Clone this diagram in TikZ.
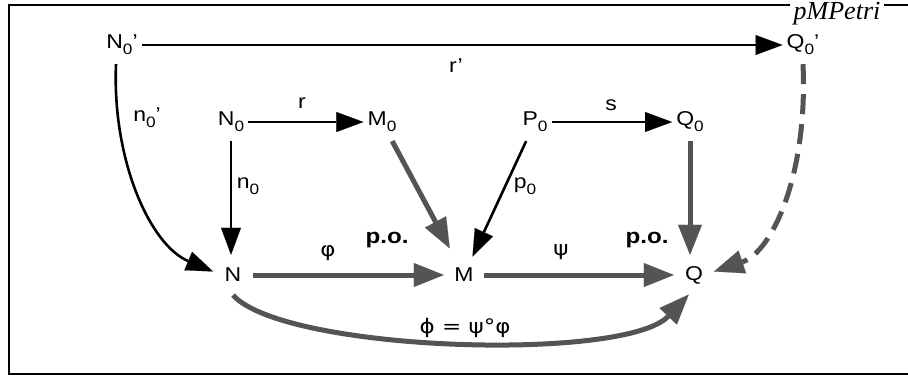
\documentclass[tikz,border=0pt]{standalone}
\usepackage{fontspec}
\usepackage{graphicx}
\setmainfont{Liberation Sans}
\newfontfamily\grk{DejaVu Sans}
\newfontfamily\titlefont{Liberation Serif}
\usetikzlibrary{arrows.meta}
\newcommand{\sbz}[1]{\raisebox{-6pt}{\smash{\fontsize{15}{15}\selectfont #1}}}
\newcommand{\tx}[1]{\scalebox{1.15}[1]{#1}}
\definecolor{hatch}{gray}{0.33}
\begin{document}
\begin{tikzpicture}[x=1pt,y=-1pt,
  every node/.style={font=\fontsize{20}{22}\selectfont},
  top/.style={inner xsep=4pt, inner ysep=9pt},
  bot/.style={circle, inner sep=0pt, minimum size=40pt},
  lab/.style={inner sep=1pt},
  po/.style={inner sep=1pt, font=\fontsize{21}{24}\selectfont\bfseries},
  frame/.style={line width=2.8pt},
  blk/.style={line width=2.6pt, -{Triangle[length=27pt,width=20pt,line width=0.1pt]}},
  hat/.style={line width=5pt, draw=hatch, -{Triangle[length=30pt,width=24pt,line width=0.1pt,fill=hatch]}},
  hatdash/.style={hat, dash pattern=on 20pt off 10pt},
]
\useasboundingbox (0,0) rectangle (908,380);
% title and frame
\node[inner sep=3pt, font=\fontsize{26}{28}\selectfont\titlefont\itshape] (ttl) at (837,14) {pMPetri};
\draw[frame] (ttl.west |- 0,5) -- (9,5) -- (9,374) -- (912,374);
\draw[frame] (ttl.east |- 0,5) -- (912,5);
% nodes
\node[top] (N0p) at (122,45) {\tx{N\sbz{0}'}};
\node[top] (Q0p) at (803,45) {\tx{Q\sbz{0}'}};
\node[top] (N0) at (231,122) {\tx{N\sbz{0}}};
\node[top] (M0) at (382,122) {\tx{M\sbz{0}}};
\node[top] (P0) at (535,122) {\tx{P\sbz{0}}};
\node[top] (Q0) at (690,122) {\tx{Q\sbz{0}}};
\node[bot] (N) at (233,275) {\tx{N}};
\node[bot] (M) at (464,275) {\tx{M}};
\node[bot] (Q) at (694,275) {\tx{Q}};
% labels
\node[lab] (lrp) at (456,66) {\tx{r'}};
\node[lab] (lnp) at (147,118) {\tx{n\sbz{0}'}};
\node[lab] (lr) at (302,103) {\tx{r}};
\node[lab] (ls) at (611,105) {\tx{s}};
\node[lab] (ln) at (248,186) {\tx{n\sbz{0}}};
\node[lab] (lp) at (525,186) {\tx{p\sbz{0}}};
\node[lab] (lphi) at (328,253) {\tx{\grk φ}};
\node[lab] (lpsi) at (561,252) {\tx{\grk ψ}};
\node[po] (po1) at (387,240) {\tx{p.o.}};
\node[po] (po2) at (647,240) {\tx{p.o.}};
\node[lab] (lcomp) at (465,328) {\tx{\grk ϕ = ψ°φ}};
% black arrows
\draw[blk] (N0p) -- (Q0p);
\draw[blk] (N0) -- (M0);
\draw[blk] (P0) -- (Q0);
\draw[blk] (N0.south) -- (N0.south |- N.north);
\draw[blk] (P0) -- (M);
\draw[blk] ([xshift=-6pt]N0p.south) .. controls (112,160) and (150,245) .. (N.170);
% hatched arrows
\draw[hat, shorten >=10pt] (M0) -- (M);
\draw[hat] (Q0.south) -- (Q0.south |- Q.north);
\draw[hat] (N) -- (M);
\draw[hat] (M) -- (Q);
\draw[hat] (N.south) .. controls (285,352) and (625,362) .. (Q.-105);
\draw[hatdash] (Q0p.south) .. controls (808,175) and (772,252) .. (Q.10);
\end{tikzpicture}
\end{document}
